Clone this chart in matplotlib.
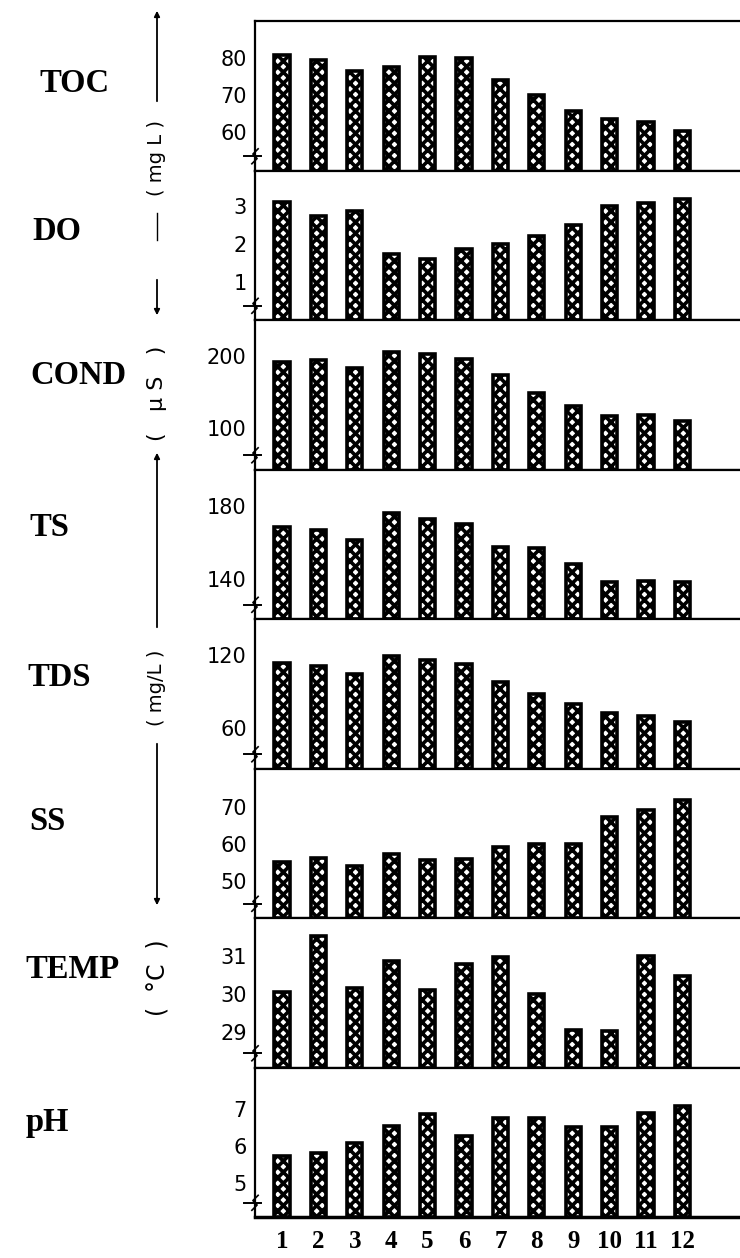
import matplotlib
matplotlib.use("Agg")
import matplotlib.pyplot as plt
from matplotlib.lines import Line2D

# ---------------- data ----------------
months = [1, 2, 3, 4, 5, 6, 7, 8, 9, 10, 11, 12]
month_labels = ["1", "2", "3", "4", "5", "6", "7", "8", "9", "10", "11", "12"]

params = ["TOC", "DO", "COND", "TS", "TDS", "SS", "TEMP", "pH"]

toc = [80.7, 79.5, 76.4, 77.6, 80.4, 80.1, 74.1, 69.9, 65.7, 63.6, 62.7, 60.3]
do = [3.13, 2.75, 2.87, 1.74, 1.62, 1.88, 2.0, 2.22, 2.5, 3.0, 3.1, 3.2]
cond = [192, 194, 183, 206, 203, 196, 173, 148, 131, 117, 118, 109]
ts = [168.4, 166.6, 161.5, 176.3, 173.0, 169.9, 157.4, 157.1, 148.3, 138.2, 139.0, 138.2]
tds = [113.8, 111.0, 104.6, 119.4, 115.8, 113.0, 97.6, 87.8, 79.4, 72.3, 69.8, 64.8]
ss = [55.2, 56.1, 54.1, 57.3, 55.8, 56.0, 59.2, 59.9, 59.9, 67.4, 69.2, 71.9]
temp = [30.05, 31.53, 30.16, 30.87, 30.1, 30.78, 30.97, 30.0, 29.03, 29.02, 31.0, 30.48]
ph = [5.74, 5.81, 6.07, 6.54, 6.85, 6.26, 6.74, 6.76, 6.52, 6.5, 6.87, 7.06]

series = [toc, do, cond, ts, tds, ss, temp, ph]

y_limits = [(49.6, 90), (0, 3.95), (42, 250), (118, 200),
            (26, 150), (40, 80.4), (28.05, 32.0), (4.1, 8.1)]
y_ticks = [[60, 70, 80], [1, 2, 3], [100, 200], [140, 180],
           [60, 120], [50, 60, 70], [29, 30, 31], [5, 6, 7]]

# ---------------- figure ----------------
W, H = 740, 1258
fig = plt.figure(figsize=(W / 100, H / 100), dpi=100)
plt.rcParams['hatch.linewidth'] = 2.6

def fx(px):
    return px / W

def fy(py):
    return 1 - py / H

ax_left = 255
ax_right = 777
top_px = 21
bot_px = 1217
n = len(params)
panel_h = (bot_px - top_px) / n

label_x = [39, 32, 30, 29, 27, 29, 25, 26]
label_y = [83, 232, 375, 528, 678, 822, 970, 1122]

for i, (name, vals) in enumerate(zip(params, series)):
    t = top_px + i * panel_h
    b = t + panel_h
    ax = fig.add_axes([fx(ax_left), fy(b), fx(ax_right - ax_left), (b - t) / H])
    lo, hi = y_limits[i]
    heights = [v - lo for v in vals]
    ax.bar(months, heights, bottom=lo, width=0.42, facecolor="white",
           edgecolor="black", linewidth=2.6, hatch="xxx")
    ax.set_xlim(0.258, 14.6)
    ax.set_ylim(lo, hi)
    ax.set_yticks(y_ticks[i])
    ax.set_yticklabels([str(v) for v in y_ticks[i]], fontsize=15,
                       family="DejaVu Sans")
    ax.tick_params(axis="y", length=0, pad=6)
    for s in ["top", "bottom", "left", "right"]:
        ax.spines[s].set_linewidth(1.6)
    ax.spines["right"].set_visible(False)
    if i < n - 1:
        ax.set_xticks([])
    else:
        ax.set_xticks(months)
        ax.set_xticklabels(month_labels, fontsize=18, fontweight="bold",
                           family="Liberation Serif")
        ax.tick_params(axis="x", length=0, pad=9)
        ax.spines["bottom"].set_linewidth(2.5)
    # axis break mark near the bottom of the left axis
    yb = 0.095
    ax.plot([-0.022, 0.012], [yb, yb], color="black", lw=1.4,
            transform=ax.transAxes, clip_on=False)
    ax.plot([-0.006, 0.004, -0.004, 0.006], [yb - 0.05, yb - 0.015, yb + 0.015, yb + 0.05],
            color="black", lw=1.2, transform=ax.transAxes, clip_on=False)
    # parameter name
    fig.text(fx(label_x[i]), fy(label_y[i]), name, fontsize=23.5,
             fontweight="bold", family="Liberation Serif", ha="left", va="center")

# ---------------- unit annotations on the left ----------------
ux = fx(157)

def vline(y0, y1, lw=1.3):
    fig.add_artist(Line2D([ux, ux], [fy(y0), fy(y1)], color="black", lw=lw))

def arrow(y_tail, y_head):
    fig.add_artist(matplotlib.patches.FancyArrowPatch(
        (ux, fy(y_tail)), (ux, fy(y_head)), transform=fig.transFigure,
        arrowstyle="-|>", mutation_scale=8, color="black", lw=1.3))

arrow(104, 8)
fig.text(ux, fy(158), "( mg L )", rotation=90, ha="center", va="center", fontsize=14)
vline(213, 240, lw=1.0)
arrow(277, 318)
fig.text(ux, fy(393), "(   \u03bc S   )", rotation=90, ha="center", va="center", fontsize=16)
arrow(630, 450)
fig.text(ux, fy(688), "( mg/L )", rotation=90, ha="center", va="center", fontsize=14)
arrow(741, 908)
fig.text(ux, fy(978), "(  \u00b0C  )", rotation=90, ha="center", va="center", fontsize=17)

fig.savefig("out.png", dpi=100)
